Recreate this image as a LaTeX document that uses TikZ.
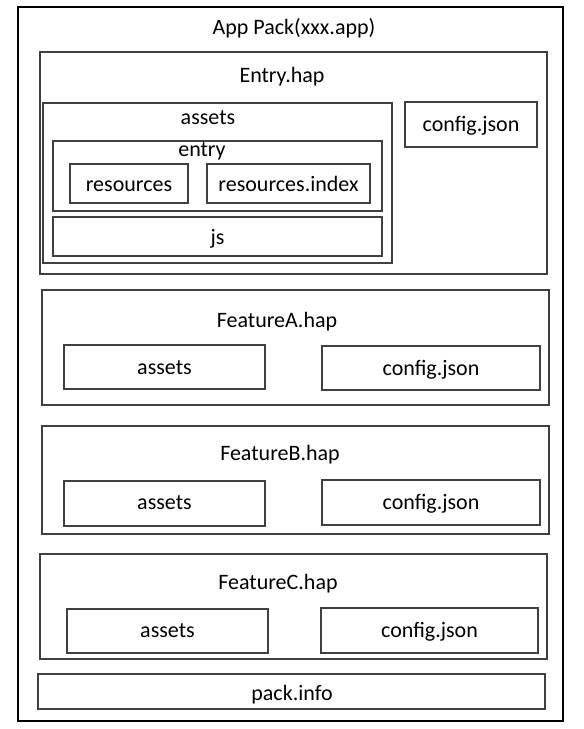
\documentclass[tikz,border=0pt]{standalone}
\usepackage{fontspec}
\setmainfont{Carlito}
\definecolor{boxline}{RGB}{64,64,64}
\begin{document}
\begin{tikzpicture}[x=1pt,y=-1pt,
  frame/.style={draw=boxline, line width=1.4pt, fill=none, inner sep=0pt, outer sep=0pt},
  outerframe/.style={draw=black, line width=1.6pt, inner sep=0pt, outer sep=0pt},
  lbl/.style={inner sep=0pt, outer sep=0pt, anchor=base, font=\fontsize{22}{26}\selectfont}]
\useasboundingbox[fill=white] (0,0) rectangle (584,729);
% outer pack
\node[outerframe, minimum width=545pt, minimum height=714pt] (outer) at (290.5,364) {};
\node[lbl] (tApp) at (294,34.5) {App Pack(xxx.app)};
% Entry.hap
\node[frame, minimum width=507pt, minimum height=222pt] (entryhap) at (293.5,163) {};
\node[lbl] (tEntry) at (282,82.5) {Entry.hap};
\node[frame, minimum width=349pt, minimum height=160pt] (eassets) at (217.5,183) {};
\node[lbl] (tEassets) at (208,124.5) {assets};
\node[frame, minimum width=329pt, minimum height=70pt] (edir) at (217.5,176) {};
\node[lbl] (tEdir) at (202,156) {entry};
\node[frame, minimum width=118pt, minimum height=39pt] (res) at (129,183.5) {};
\node[lbl] (tRes) at (129,191.5) {resources};
\node[frame, minimum width=163pt, minimum height=39pt] (residx) at (288.5,183.5) {};
\node[lbl] (tResidx) at (288.5,191.5) {resources.index};
\node[frame, minimum width=329pt, minimum height=39pt] (js) at (217.5,236.5) {};
\node[lbl] (tJs) at (217.5,244.5) {js};
\node[frame, minimum width=132pt, minimum height=45pt] (econf) at (471,124.5) {};
\node[lbl] (tEconf) at (471,131.5) {config.json};
% FeatureA
\node[frame, minimum width=507pt, minimum height=115pt] (fa) at (295.5,347.5) {};
\node[lbl] (tFa) at (277,327.5) {FeatureA.hap};
\node[frame, minimum width=201pt, minimum height=44pt] (faassets) at (164.5,367) {};
\node[lbl] (tFaassets) at (164.5,374) {assets};
\node[frame, minimum width=218pt, minimum height=44pt] (faconf) at (431,368) {};
\node[lbl] (tFaconf) at (431,375) {config.json};
% FeatureB
\node[frame, minimum width=507pt, minimum height=108pt] (fb) at (295.5,480) {};
\node[lbl] (tFb) at (280,460) {FeatureB.hap};
\node[frame, minimum width=201pt, minimum height=45pt] (fbassets) at (164.5,503.5) {};
\node[lbl] (tFbassets) at (164.5,509.5) {assets};
\node[frame, minimum width=218pt, minimum height=45pt] (fbconf) at (431,502.5) {};
\node[lbl] (tFbconf) at (431,509.5) {config.json};
% FeatureC
\node[frame, minimum width=507pt, minimum height=105pt] (fc) at (293.5,606.5) {};
\node[lbl] (tFc) at (278,589.5) {FeatureC.hap};
\node[frame, minimum width=201pt, minimum height=44pt] (fcassets) at (167.5,631) {};
\node[lbl] (tFcassets) at (167.5,637.5) {assets};
\node[frame, minimum width=217pt, minimum height=45pt] (fcconf) at (429.5,630.5) {};
\node[lbl] (tFcconf) at (429.5,637.5) {config.json};
% pack.info
\node[frame, minimum width=507pt, minimum height=35pt] (pack) at (291.5,691.5) {};
\node[lbl] (tPack) at (292,700) {pack.info};
\end{tikzpicture}
\end{document}
